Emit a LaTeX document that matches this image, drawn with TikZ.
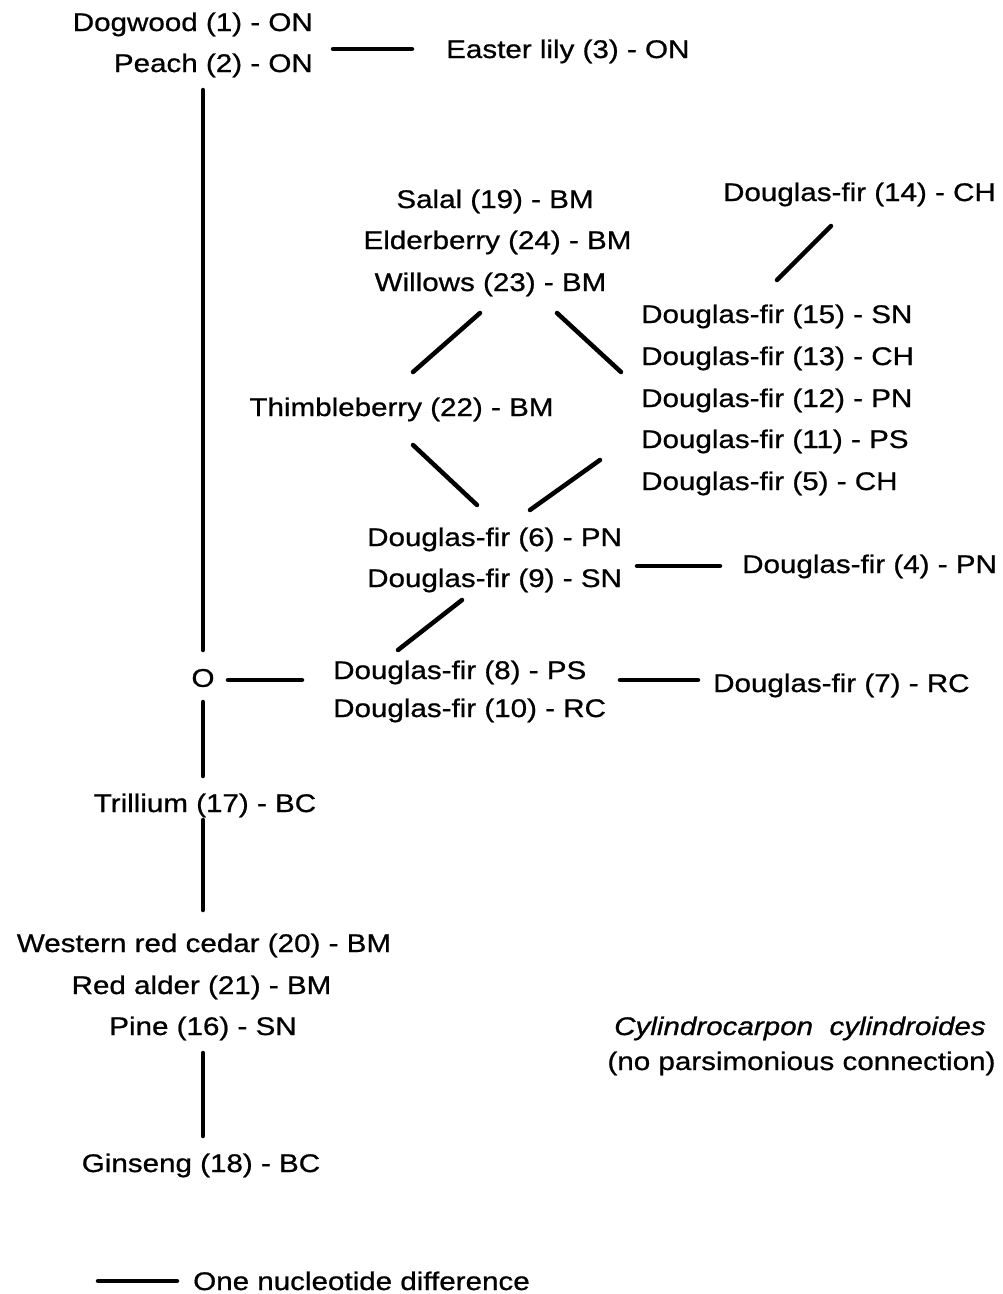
\documentclass[tikz,border=0pt]{standalone}
\usepackage{fontspec}
\setmainfont{Liberation Sans}[FakeStretch=1.16,FakeBold=0.8]
\usetikzlibrary{calc}
\begin{document}
\begin{tikzpicture}[x=1pt,y=-1pt,
  lab/.style={inner sep=0pt, font=\fontsize{25.5}{30}\selectfont},
  link/.style={line width=4.5pt, line cap=round}]
\useasboundingbox[fill=white] (0,0) rectangle (1003,1294);
% left column
\node[lab, anchor=base east] (dog) at (313,31) {Dogwood (1) - ON};
\node[lab, anchor=base east] (peach) at (313,72) {Peach (2) - ON};
\node[lab, anchor=base west] (easter) at (446,58) {Easter lily (3) - ON};
\node[lab] (O) at (203,678) {O};
\node[lab, anchor=base] (tril) at (205,812) {Trillium (17) - BC};
\node[lab, anchor=base] (wrc) at (204,952) {Western red cedar (20) - BM};
\node[lab, anchor=base] (ra) at (201.5,994) {Red alder (21) - BM};
\node[lab, anchor=base] (pine) at (203,1035) {Pine (16) - SN};
\node[lab, anchor=base] (gin) at (201,1172) {Ginseng (18) - BC};
% middle
\node[lab, anchor=base] (salal) at (495,208) {Salal (19) - BM};
\node[lab, anchor=base] (elder) at (497.5,249) {Elderberry (24) - BM};
\node[lab, anchor=base] (willows) at (490.5,291) {Willows (23) - BM};
\node[lab, anchor=base] (thimble) at (401.5,416) {Thimbleberry (22) - BM};
\node[lab, anchor=base west] (df6) at (367,546) {Douglas-fir (6) - PN};
\node[lab, anchor=base west] (df9) at (367,587) {Douglas-fir (9) - SN};
\node[lab, anchor=base west] (df8) at (333,679) {Douglas-fir (8) - PS};
\node[lab, anchor=base west] (df10) at (333,717) {Douglas-fir (10) - RC};
% right
\node[lab, anchor=base] (df14) at (859.5,201) {Douglas-fir (14) - CH};
\node[lab, anchor=base west] (df15) at (641,323) {Douglas-fir (15) - SN};
\node[lab, anchor=base west] (df13) at (641,365) {Douglas-fir (13) - CH};
\node[lab, anchor=base west] (df12) at (641,407) {Douglas-fir (12) - PN};
\node[lab, anchor=base west] (df11) at (641,448) {Douglas-fir (11) - PS};
\node[lab, anchor=base west] (df5) at (641,490) {Douglas-fir (5) - CH};
\node[lab, anchor=base west] (df4) at (742,573) {Douglas-fir (4) - PN};
\node[lab, anchor=base west] (df7) at (713,692) {Douglas-fir (7) - RC};
\node[lab, anchor=base] (cyl) at (800,1035) {\itshape Cylindrocarpon\ \ cylindroides};
\node[lab, anchor=base] (nopars) at (801.5,1070) {(no parsimonious connection)};
\node[lab, anchor=base west] (legtext) at (193,1290) {One nucleotide difference};
% connectors
\draw[link] ($(peach.base east)+(20,-23)$) -- ($(easter.base west)+(-34,-9)$);
\draw[link] ($(peach.base east)+(-110,18)$) -- ($(O.center)+(0,-28)$);
\draw[link] ($(O.center)+(25,2)$) -- ($(df8.base west)+(-31,1)$);
\draw[link] ($(O.center)+(0,24)$) -- ($(tril.base)+(-2,-36)$);
\draw[link] ($(tril.base)+(-2,8)$) -- ($(wrc.base)+(-1,-42)$);
\draw[link] ($(pine.base)+(0,18)$) -- ($(gin.base)+(2,-36)$);
\draw[link] ($(willows.base)+(-10.5,22)$) -- ($(thimble.base)+(11.5,-44)$);
\draw[link] ($(willows.base)+(66.5,22)$) -- ($(df13.base west)+(-20,7)$);
\draw[link] ($(thimble.base)+(11.5,29)$) -- ($(df6.base west)+(110,-41)$);
\draw[link] ($(df11.base west)+(-41,12)$) -- ($(df6.base west)+(163,-36)$);
\draw[link] ($(df14.base)+(-28.5,25)$) -- ($(df15.base west)+(136,-43)$);
\draw[link] ($(df9.base west)+(270,-21)$) -- ($(df4.base west)+(-22,-7)$);
\draw[link] ($(df9.base west)+(95,13)$) -- ($(df8.base west)+(65,-29)$);
\draw[link] ($(df8.base west)+(287,1)$) -- ($(df7.base west)+(-15,-12)$);
\draw[link] ($(legtext.base west)+(-95,-9)$) -- ($(legtext.base west)+(-16,-9)$);
\end{tikzpicture}
\end{document}
